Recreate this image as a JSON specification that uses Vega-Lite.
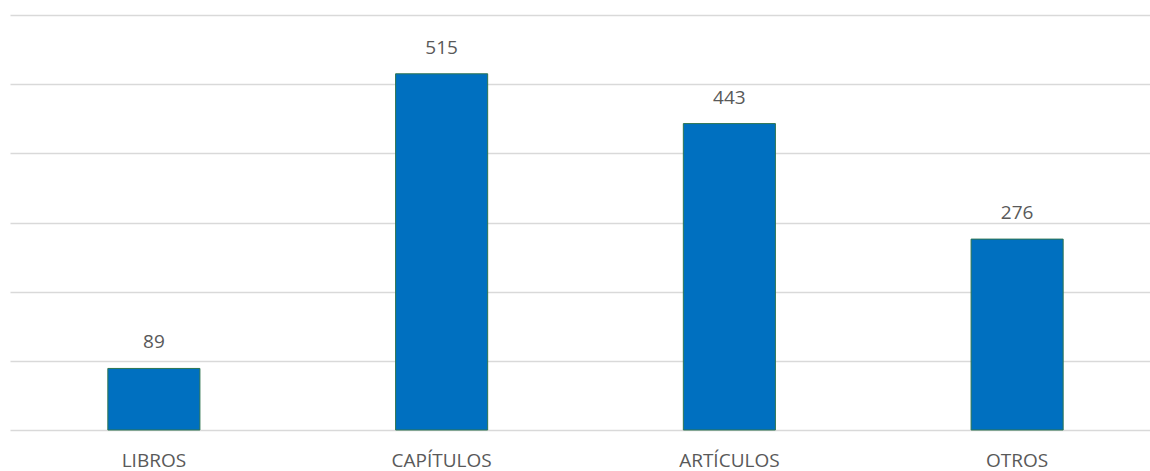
{
  "$schema": "https://vega.github.io/schema/vega-lite/v6.json",
  "width": 1151,
  "height": 415,
  "autosize": {"type": "none"},
  "padding": {"left": 10, "top": 15, "right": 0, "bottom": 41},
  "background": "white",
  "config": {"view": {"stroke": null}, "font": "Open Sans"},
  "data": {"values": [
    {"categoria": "LIBROS", "valor": 89},
    {"categoria": "CAPÍTULOS", "valor": 515},
    {"categoria": "ARTÍCULOS", "valor": 443},
    {"categoria": "OTROS", "valor": 276}
  ]},
  "encoding": {
    "x": {"field": "categoria", "type": "nominal", "sort": null,
      "scale": {"paddingInner": 0.68, "paddingOuter": 0.34},
      "axis": {"title": null, "labelAngle": 0, "ticks": false, "domain": false, "grid": false,
        "labelFont": "Open Sans", "labelFontSize": 19, "labelColor": "#595959",
        "labelBaseline": "alphabetic", "labelPadding": 36}},
    "y": {"field": "valor", "type": "quantitative",
      "scale": {"domain": [0, 600], "nice": false},
      "axis": {"title": null, "labels": false, "ticks": false, "domain": false,
        "values": [0, 100, 200, 300, 400, 500, 600],
        "gridColor": "#d9d9d9", "gridWidth": 1.5}}
  },
  "layer": [
    {"mark": {"type": "bar", "fill": "#0070C0", "stroke": "#2E7550", "strokeWidth": 1}},
    {"mark": {"type": "text", "baseline": "alphabetic", "dy": -20, "font": "Open Sans", "fontSize": 19, "fill": "#595959"},
     "encoding": {"text": {"field": "valor", "type": "quantitative"}}}
  ]
}
